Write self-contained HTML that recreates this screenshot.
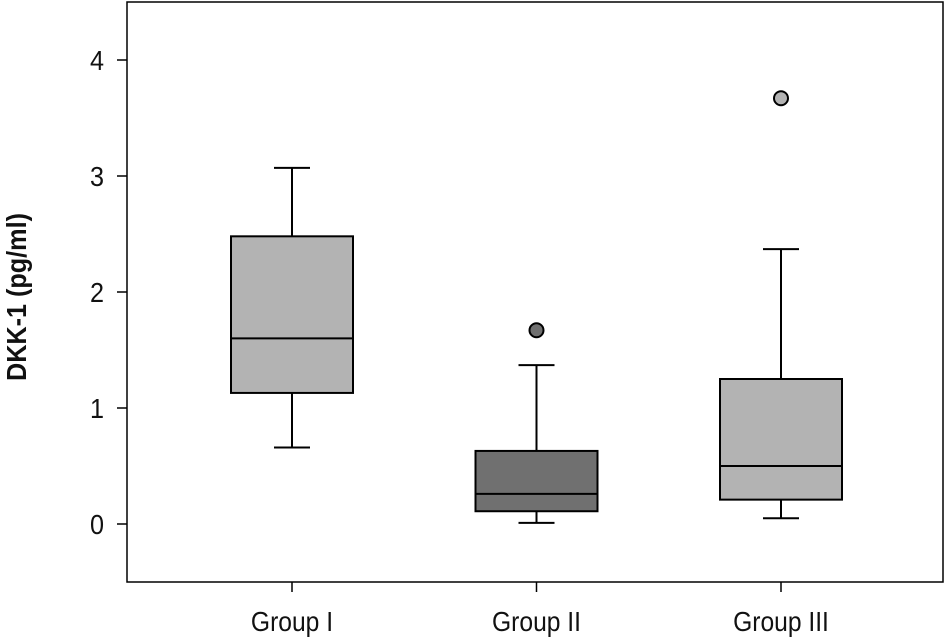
<!DOCTYPE html>
<html><head><meta charset="utf-8"><style>
body{margin:0;background:#fff;}
svg text{font-family:"Liberation Sans Narrow","Liberation Sans",sans-serif;fill:#111;}
</style></head><body>
<svg width="946" height="638" xmlns="http://www.w3.org/2000/svg">
<rect x="127" y="2" width="816" height="580" fill="#fff" stroke="#000" stroke-width="1.5"/>
<text transform="translate(26,297) rotate(-90) scale(0.9,1)" text-anchor="middle" font-size="28" font-weight="bold">DKK-1 (pg/ml)</text>
<g id="ticks"></g>
<g id="boxes"></g>
</svg>
<script>
const categories=["Group I","Group II","Group III"];
const mins=[0.66,0.01,0.05];
const q1s=[1.13,0.11,0.21];
const medians=[1.6,0.26,0.5];
const q3s=[2.48,0.63,1.25];
const maxs=[3.07,1.37,2.37];
const outliers=[[],[1.67],[3.67]];
const fills=["#b3b3b3","#707070","#b3b3b3"];
const yTicks=[0,1,2,3,4];
const NS="http://www.w3.org/2000/svg";
function y(v){return 524-116*v;}
function x(i){return 292+244.5*i;}
function mk(t,a,p){const e=document.createElementNS(NS,t);for(const k in a)e.setAttribute(k,a[k]);p.appendChild(e);return e;}
const tg=document.getElementById('ticks'),bg=document.getElementById('boxes');
yTicks.forEach(v=>{
 const l=mk('line',{x1:117,x2:127,y1:y(v),y2:y(v),stroke:'#000','stroke-width':1.5},tg);
 
 
 const t=mk('text',{transform:'translate(104,'+(y(v)+10)+') scale(0.9,1)','text-anchor':'end','font-size':28},tg);t.textContent=v;
 
 
});
categories.forEach((c,i)=>{
 const cx=x(i),hw=61;
 const l=mk('line',{x1:cx,x2:cx,y1:582,y2:592,stroke:'#000','stroke-width':1.5},tg);
 
 
 const t=mk('text',{transform:'translate('+cx+',631) scale(0.88,1)','text-anchor':'middle','font-size':28},tg);t.textContent=c;
 
 
 const g=mk('g',{},bg);
 
 
 const s={stroke:'#000','stroke-width':2};
 mk('line',Object.assign({x1:cx,x2:cx,y1:y(maxs[i]),y2:y(q3s[i])},s),g);
 mk('line',Object.assign({x1:cx,x2:cx,y1:y(q1s[i]),y2:y(mins[i])},s),g);
 mk('line',Object.assign({x1:cx-18,x2:cx+18,y1:y(maxs[i]),y2:y(maxs[i])},s),g);
 mk('line',Object.assign({x1:cx-18,x2:cx+18,y1:y(mins[i]),y2:y(mins[i])},s),g);
 mk('rect',Object.assign({x:cx-hw,y:y(q3s[i]),width:2*hw,height:y(q1s[i])-y(q3s[i]),fill:fills[i]},s),g);
 mk('line',Object.assign({x1:cx-hw,x2:cx+hw,y1:y(medians[i]),y2:y(medians[i])},s),g);
 outliers[i].forEach(o=>{
  const d=mk('circle',Object.assign({cx:cx,cy:y(o),r:7,fill:fills[i]},s),g);
  
  
 });
});
</script>
</body></html>
